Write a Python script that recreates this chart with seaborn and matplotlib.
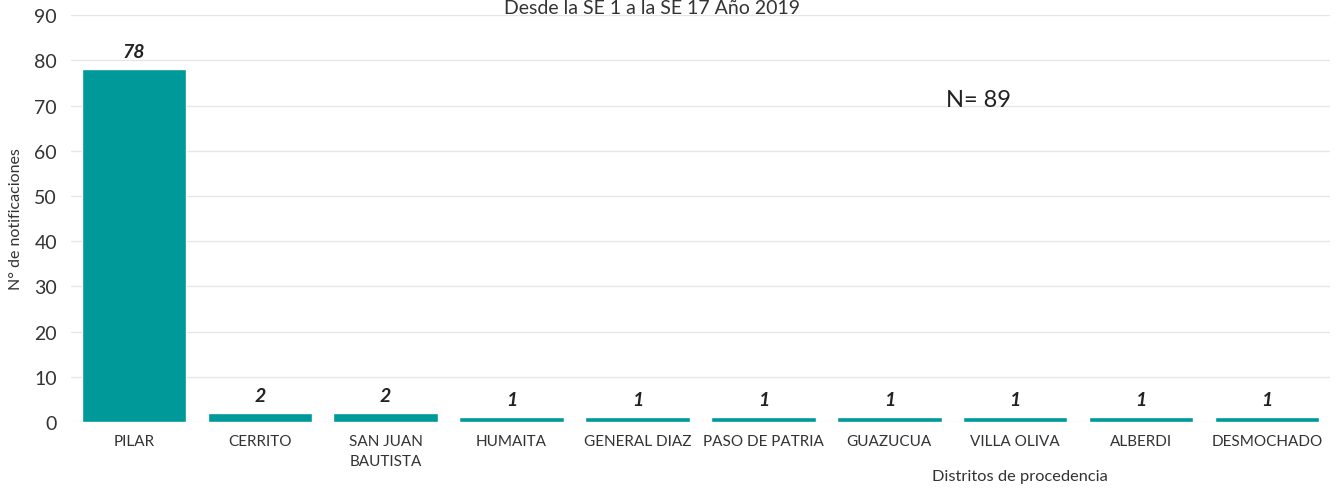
import matplotlib
matplotlib.use("Agg")
import matplotlib.pyplot as plt
import seaborn as sns
import pandas as pd

categories = ["PILAR", "CERRITO", "SAN JUAN\nBAUTISTA", "HUMAITA", "GENERAL DIAZ",
              "PASO DE PATRIA", "GUAZUCUA", "VILLA OLIVA", "ALBERDI", "DESMOCHADO"]
values = [78, 2, 2, 1, 1, 1, 1, 1, 1, 1]
yticks = [0, 10, 20, 30, 40, 50, 60, 70, 80, 90]

sns.set_theme(style="white")
plt.rcParams['font.family'] = ['Lato', 'DejaVu Sans']

df = pd.DataFrame({"cat": categories, "val": values})

fig = plt.figure(figsize=(13.36, 4.89), dpi=100)
ax = fig.add_axes([0.0531, 0.135, 0.9424, 0.832])

sns.barplot(data=df, x="cat", y="val", color="#009999", saturation=1,
            width=0.83, ax=ax, zorder=3)

ax.set_ylim(0, 90)
ax.set_yticks(yticks)
ax.set_xlim(-0.5, len(categories) - 0.5)
ax.grid(axis="y", color="#e6e6e6", linewidth=1, zorder=0)
ax.grid(axis="x", visible=False)
for s in ax.spines.values():
    s.set_visible(False)
ax.tick_params(axis="y", labelsize=14, colors="#333333", length=0, pad=10)
ax.tick_params(axis="x", labelsize=11, colors="#333333", length=0, pad=9)
for lbl in ax.get_xticklabels():
    lbl.set_linespacing(1.5)

for i, v in enumerate(values):
    ax.text(i, v + 2, str(v), ha="center", va="bottom", fontsize=14,
            fontweight="bold", fontstyle="italic", color="#222222")

ax.set_ylabel("N° de notificaciones", fontsize=11.5, color="#333333")
ax.yaxis.set_label_coords(-0.038, 0.5)
ax.set_xlabel("Distritos de procedencia", fontsize=11.8, color="#333333")
ax.xaxis.set_label_coords(0.754, -0.115)

fig.text(0.708, 0.795, "N= 89", fontsize=17, color="#222222", ha="left", va="center")
fig.text(0.488, 0.999, "Desde la SE 1 a la SE 17 Año 2019", fontsize=14,
         color="#333333", ha="center", va="top")

fig.savefig("out.png", dpi=100)
